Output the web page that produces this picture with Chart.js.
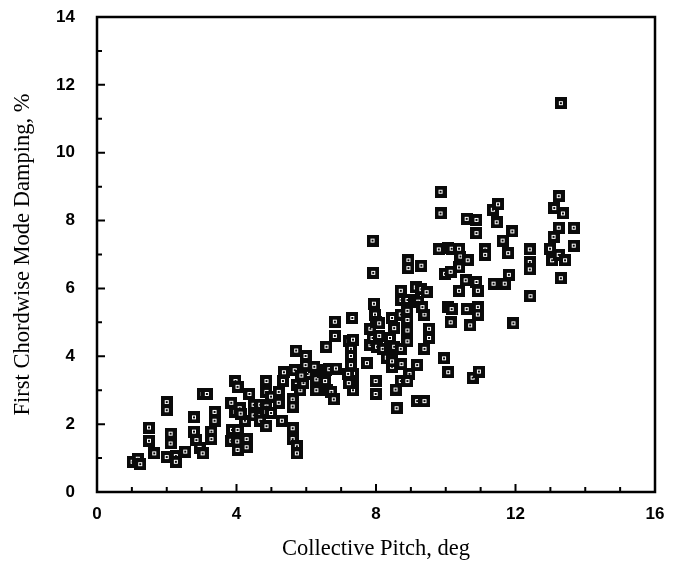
<!DOCTYPE html>
<html>
<head>
<meta charset="utf-8">
<script src="https://cdn.jsdelivr.net/npm/chart.js@4.4.1/dist/chart.umd.min.js"></script>
<style>
html,body{margin:0;padding:0;background:#fff;}
#wrap{width:676px;height:567px;}
</style>
</head>
<body>
<div id="wrap"><canvas id="c" width="676" height="567"></canvas></div>
<script>
const xTicks = [0, 4, 8, 12, 16];
const yTicks = [0, 2, 4, 6, 8, 10, 12, 14];
const pitch = [
1.02,1.17,1.24,1.49,1.49,1.64,2.0,2.0,2.11,2.11,2.0,2.26,2.26,2.53,2.78,2.78,2.85,2.94,3.03,3.03,3.15,3.28,3.37,3.37,3.28,
3.85,3.97,4.03,3.87,4.03,3.85,4.02,4.03,4.29,4.29,3.97,4.09,4.24,4.12,
4.37,4.49,4.49,4.68,4.68,4.68,4.86,4.86,4.86,4.86,4.99,4.99,4.86,5.21,5.21,5.3,5.33,5.36,
5.61,5.61,5.61,5.61,5.73,5.73,
5.71,5.67,5.73,5.83,5.92,5.98,5.98,6.04,5.86,
6.23,6.29,6.29,6.48,6.54,6.58,6.6,6.66,6.72,6.79,6.85,6.58,6.82,6.82,
7.22,7.28,7.28,7.28,7.34,7.34,7.34,7.32,7.22,7.2,7.34,
7.74,7.84,7.84,7.9,7.92,7.94,7.97,7.99,8.03,7.99,7.99,7.9,8.09,8.09,
8.19,8.4,8.4,8.31,8.46,8.46,8.52,8.46,8.52,8.56,8.59,8.71,8.73,8.71,8.71,8.73,8.71,
8.9,8.9,8.9,8.9,8.9,8.93,8.93,8.96,8.9,9.09,9.14,9.21,9.18,9.18,9.39,9.3,9.3,9.39,9.39,9.33,9.52,9.52,9.45,
9.8,9.85,9.85,9.95,10.07,9.98,10.14,10.07,10.17,10.14,
10.07,10.17,10.38,10.42,10.38,10.38,10.57,10.63,10.6,10.7,10.77,10.95,
10.6,10.88,10.88,10.88,10.92,10.92,10.92,11.13,11.13,
11.35,11.5,11.46,11.37,11.69,11.63,11.79,11.81,11.91,11.94,
12.41,12.41,12.41,12.43,
12.99,13.05,13.09,13.11,13.24,13.24,13.24,13.3,13.36,13.42,13.3,13.67,13.67
];
const damping = [
0.89,0.98,0.82,1.9,1.51,1.14,2.65,2.41,1.72,1.43,1.03,1.06,0.89,1.19,2.2,1.78,1.53,1.3,1.14,2.89,2.89,1.78,2.36,2.1,1.56,
2.63,3.27,3.1,1.83,1.83,1.51,1.49,1.24,1.56,1.32,2.36,2.47,2.1,2.31,
2.89,2.57,2.26,2.57,2.23,2.1,2.95,2.52,2.36,1.94,2.81,2.33,3.27,2.63,2.95,2.1,3.27,3.53,
2.73,2.52,1.88,1.56,1.35,1.14,
4.17,3.59,3.16,3.0,3.21,4.01,3.74,3.48,3.43,
3.69,3.32,3.0,3.53,3.27,3.59,3.0,3.62,2.95,2.73,3.64,4.28,4.6,5.02,
4.44,4.22,4.01,3.74,3.48,3.27,3.0,5.13,3.21,3.48,4.49,
3.8,4.33,4.81,7.41,6.46,5.55,5.23,5.02,4.28,3.27,2.89,4.54,4.6,4.97,
4.22,4.22,4.54,3.96,3.69,3.85,4.28,5.13,4.83,3.02,2.47,4.22,3.77,3.27,5.93,5.66,5.23,
5.66,5.34,5.07,4.76,4.44,6.83,6.6,3.48,3.27,5.66,6.03,5.61,3.74,2.68,2.68,6.67,5.98,5.23,4.22,5.45,4.81,4.54,5.89,
7.15,8.85,8.21,3.94,3.53,6.43,6.49,5.45,5.39,5.0,
7.2,7.17,7.17,6.94,6.62,5.93,6.24,6.83,5.39,4.91,3.37,3.55,
8.05,8.02,7.63,6.19,5.93,5.45,5.23,7.15,6.99,
8.32,8.48,7.95,6.14,6.14,7.41,7.04,6.4,7.68,4.97,
7.15,6.78,6.56,5.77,
7.17,6.83,7.52,8.37,8.72,7.79,6.99,6.3,8.21,6.83,11.46,7.79,7.26
];

// marker: black square with small hollow centre
function makeMarker() {
  const m = document.createElement('canvas');
  m.width = 12; m.height = 12;
  const g = m.getContext('2d');
  g.fillStyle = '#0a0a0a';
  g.fillRect(0, 0, 12, 12);
  g.fillStyle = '#fff';
  g.fillRect(4, 4, 4, 4);
  g.fillStyle = '#0a0a0a';
  g.fillRect(5, 5, 2, 2);
  return m;
}
const marker = makeMarker();

const points = pitch.map((x, i) => ({x: x, y: damping[i]}));

const framePlugin = {
  id: 'frame',
  afterDraw(chart) {
    const {ctx, chartArea: a, scales} = chart;
    ctx.save();
    ctx.strokeStyle = '#000';
    ctx.lineWidth = 2.5;
    ctx.strokeRect(a.left, a.top, a.right - a.left, a.bottom - a.top);
    ctx.lineWidth = 2;
    ctx.beginPath();
    for (let v = 1; v < 16; v++) {
      const px = scales.x.getPixelForValue(v);
      ctx.moveTo(px, a.bottom);
      ctx.lineTo(px, a.bottom - (v % 4 === 0 ? 8 : 5));
    }
    for (let v = 1; v < 14; v++) {
      const py = scales.y.getPixelForValue(v);
      ctx.moveTo(a.left, py);
      ctx.lineTo(a.left + (v % 2 === 0 ? 8 : 5), py);
    }
    ctx.stroke();
    ctx.restore();
  }
};

new Chart(document.getElementById('c'), {
  type: 'scatter',
  data: {
    datasets: [{
      data: points,
      pointStyle: marker,
      pointRadius: 6,
      pointHoverRadius: 6
    }]
  },
  options: {
    responsive: false,
    animation: false,
    events: [],
    layout: {padding: {top: 17, right: 21, left: 0, bottom: 0}},
    plugins: {legend: {display: false}, tooltip: {enabled: false}},
    scales: {
      x: {
        type: 'linear', min: 0, max: 16,
        afterFit(s) { s.height = 75; s.paddingLeft = 0; s.paddingRight = 0; },
        afterBuildTicks(s) { s.ticks = xTicks.map(v => ({value: v})); },
        grid: {display: false},
        border: {display: false},
        ticks: {color: '#000', padding: 4, font: {family: 'Liberation Sans', size: 17, weight: 'bold'}, maxRotation: 0},
        title: {display: true, text: 'Collective Pitch, deg', color: '#000',
          font: {family: 'Liberation Serif', size: 22.5}, padding: {top: 14}}
      },
      y: {
        type: 'linear', min: 0, max: 14,
        afterFit(s) { s.width = 97; s.paddingTop = 0; s.paddingBottom = 0; },
        afterBuildTicks(s) { s.ticks = yTicks.map(v => ({value: v})); },
        grid: {display: false},
        border: {display: false},
        ticks: {color: '#000', padding: 14, font: {family: 'Liberation Sans', size: 17, weight: 'bold'}},
        title: {display: true, text: 'First Chordwise Mode Damping, %', color: '#000',
          font: {family: 'Liberation Serif', size: 22.5}, padding: {top: 10, bottom: 0}}
      }
    }
  },
  plugins: [framePlugin]
});
</script>
</body>
</html>
